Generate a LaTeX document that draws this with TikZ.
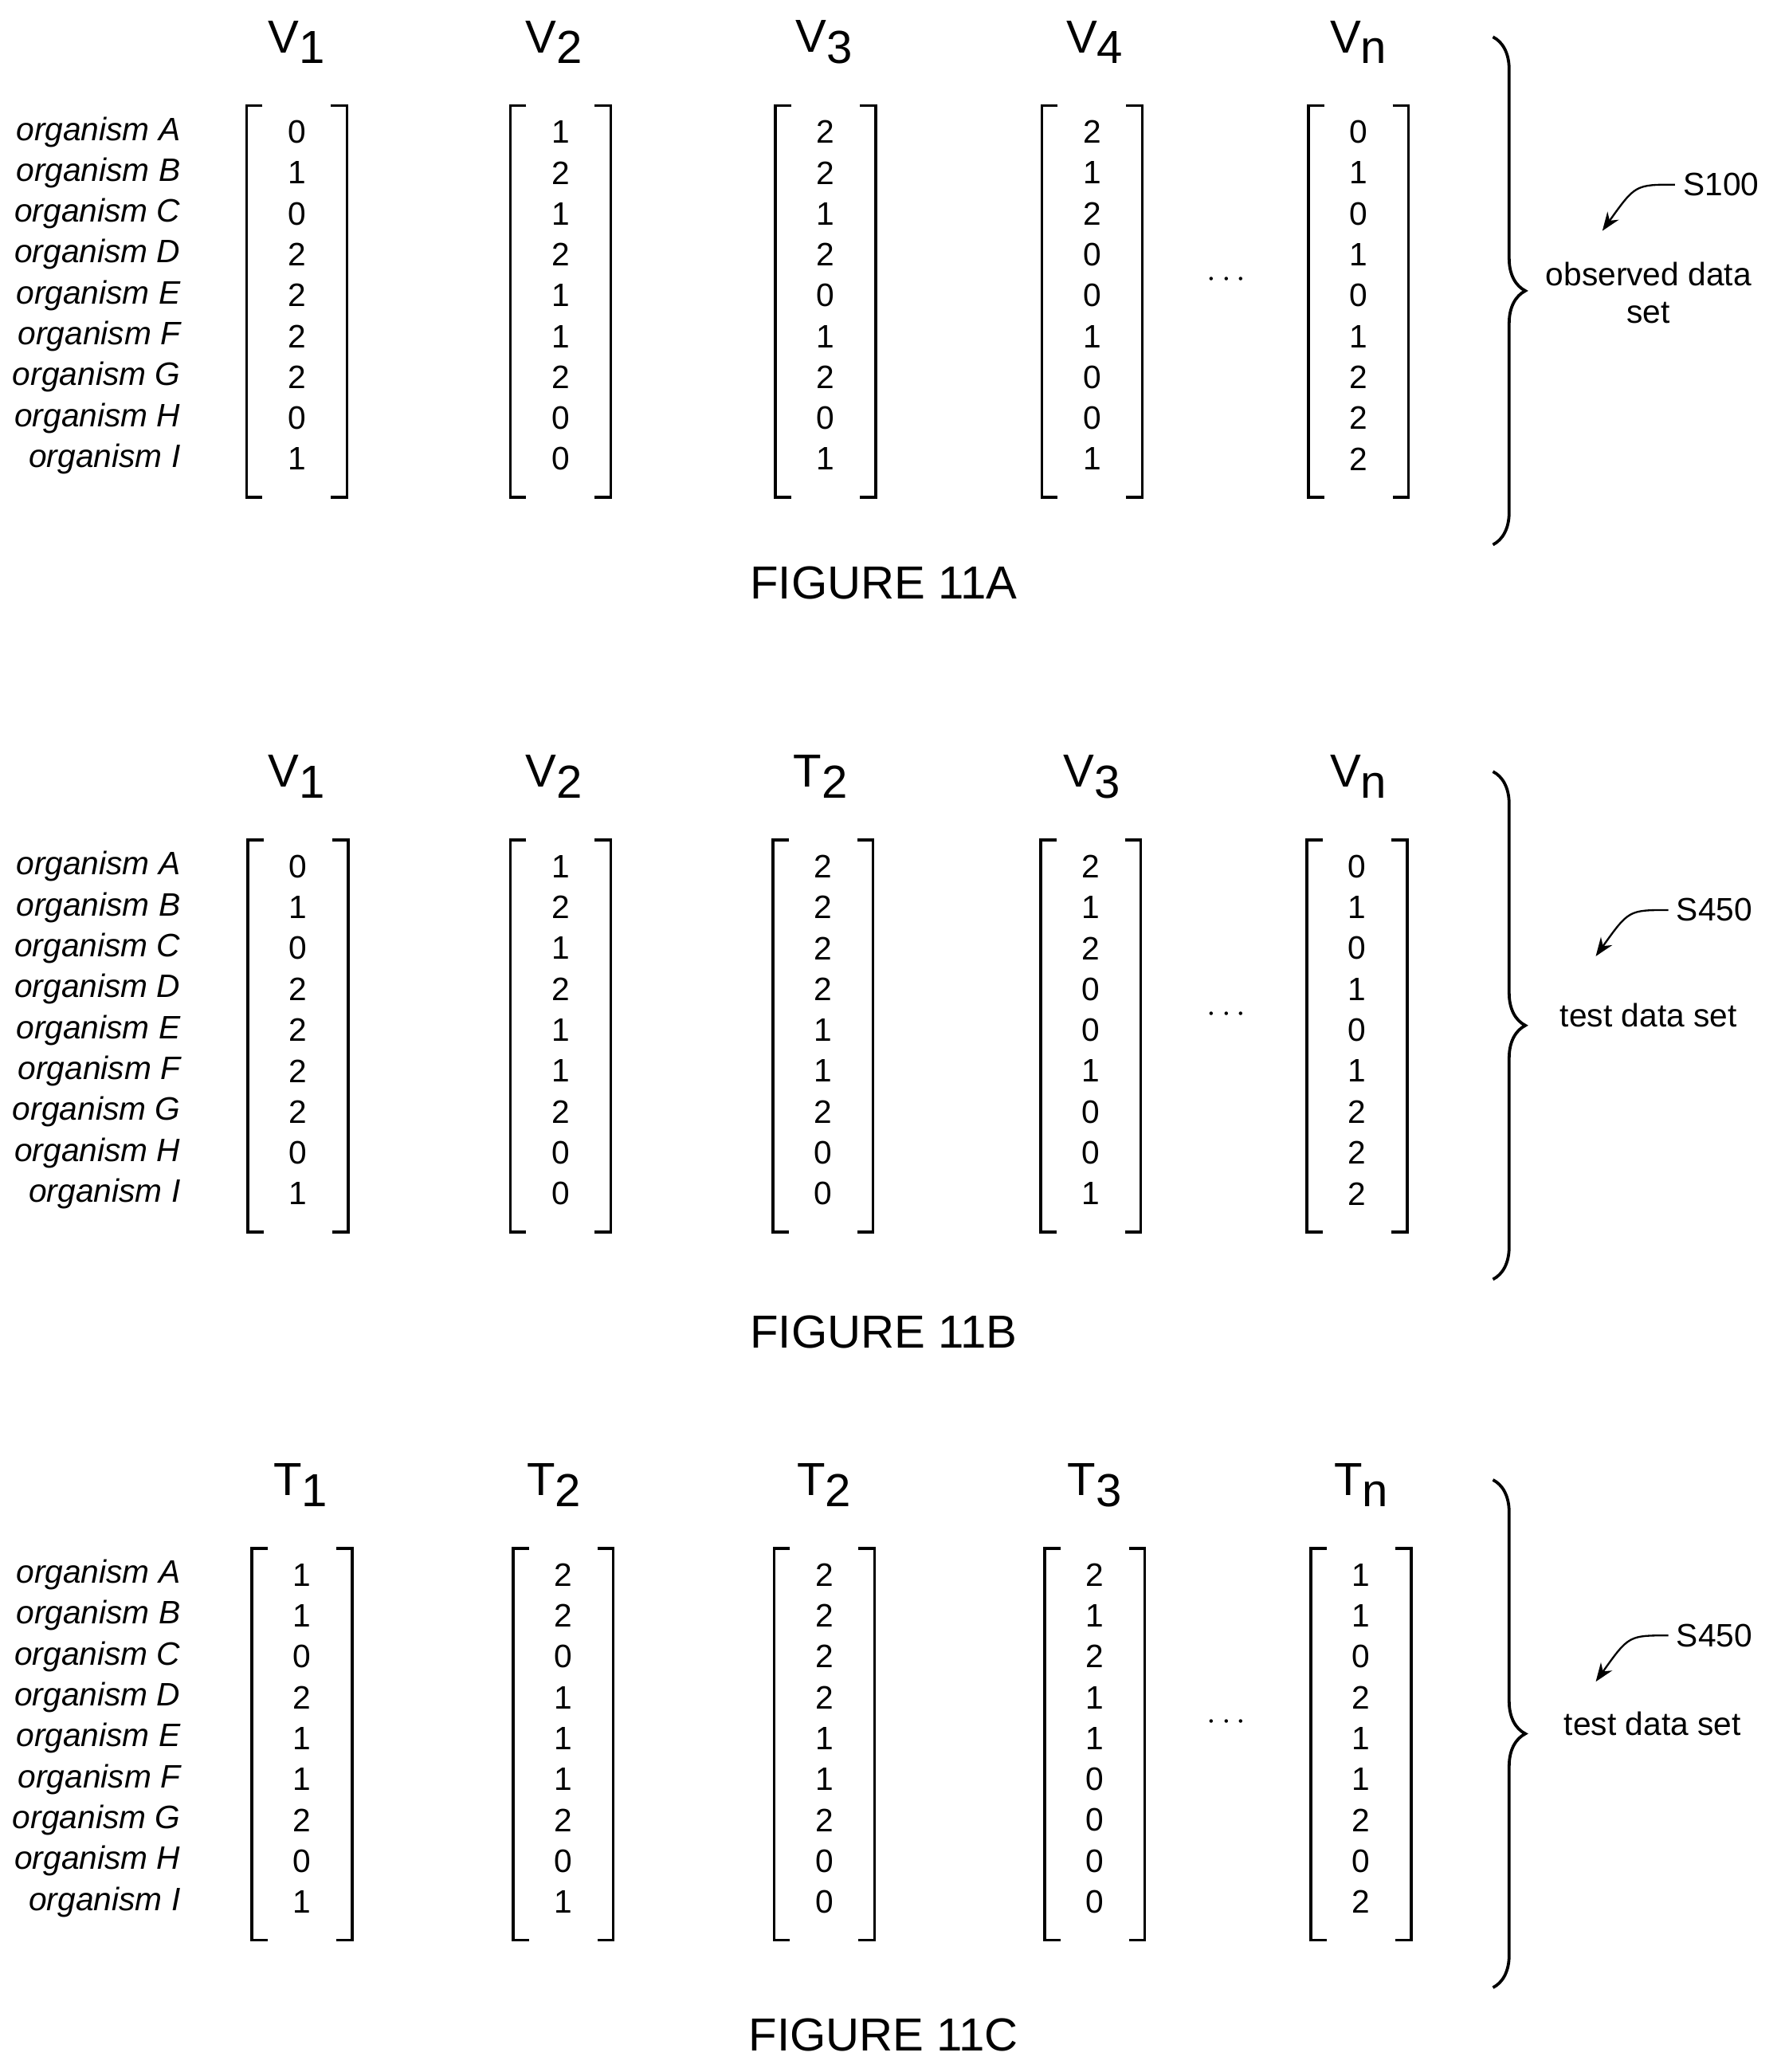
\documentclass[tikz,border=0pt]{standalone}
\usepackage{fontspec}
\setmainfont{Liberation Sans}
\usetikzlibrary{decorations.pathreplacing,arrows.meta}
\tikzset{
  rowlabel/.style={anchor=east,font=\fontsize{14}{16}\selectfont\itshape},
  entry/.style={font=\fontsize{14}{16}\selectfont},
  colhead/.style={font=\fontsize{20}{24}\selectfont},
  figlabel/.style={font=\fontsize{20}{24}\selectfont},
  bracket/.style={line width=1.2pt},
}
\newcommand{\sub}[2]{#1\raisebox{-0.45ex}{#2}}
% one panel: y offset, tag, headers, columns of entries
\newcommand{\panel}[4]{%
  \foreach \lab [count=\r] in {A,B,C,D,E,F,G,H,I}
    \node[rowlabel] (#2-l\r) at (143,{#1+69+31*\r}) {organism \lab};
  \foreach \hd/\xc [count=\c] in {#3}
    \node[colhead] (#2-h\c) at (\xc,{#1+32}) {\hd};
  \foreach \xc/\vals [count=\c] in {#4}{
    \draw[bracket] (\xc-26,{#1+80}) -- (\xc-38,{#1+80}) -- (\xc-38,{#1+377}) -- (\xc-26,{#1+377});
    \draw[bracket] (\xc+26,{#1+80}) -- (\xc+38,{#1+80}) -- (\xc+38,{#1+377}) -- (\xc+26,{#1+377});
    \foreach \v [count=\r] in \vals
      \node[entry] (#2-c\c r\r) at (\xc,{#1+69+31*\r}) {\v};
  }
  \node[entry] (#2-dots) at (930,{#1+212}) {$\cdots$};
  \draw[line width=1.3pt,decorate,decoration={brace,amplitude=14}] (1132,{#1+28}) -- (1132,{#1+413});
}
\begin{document}
\begin{tikzpicture}[x=0.02cm,y=-0.02cm]
\useasboundingbox (0,0) rectangle (1350,1571);
% FIGURE 11A
\panel{0}{a}{\sub{V}{1}/225,\sub{V}{2}/420,\sub{V}{3}/625,\sub{V}{4}/830,\sub{V}{n}/1030}
  {225/{0,1,0,2,2,2,2,0,1},425/{1,2,1,2,1,1,2,0,0},626/{2,2,1,2,0,1,2,0,1},828/{2,1,2,0,0,1,0,0,1},1030/{0,1,0,1,0,1,2,2,2}}
\node[entry] (a-s) at (1305,140) {S100};
\coordinate (a-t) at (1215,175);
\draw[-{Stealth[length=8pt]},line width=0.8pt] (a-s.west) .. controls (1240,140) .. (a-t);
\node[entry,align=center] (a-txt) at (1250,222) {observed data\\set};
\node[figlabel] (a-fig) at (670,442) {FIGURE 11A};
% FIGURE 11B
\panel{557}{b}{\sub{V}{1}/225,\sub{V}{2}/420,\sub{T}{2}/622,\sub{V}{3}/828,\sub{V}{n}/1030}
  {226/{0,1,0,2,2,2,2,0,1},425/{1,2,1,2,1,1,2,0,0},624/{2,2,2,2,1,1,2,0,0},827/{2,1,2,0,0,1,0,0,1},1029/{0,1,0,1,0,1,2,2,2}}
\node[entry] (b-s) at (1300,690) {S450};
\coordinate (b-t) at (1210,725);
\draw[-{Stealth[length=8pt]},line width=0.8pt] (b-s.west) .. controls (1235,690) .. (b-t);
\node[entry] (b-txt) at (1250,770) {test data set};
\node[figlabel] (b-fig) at (670,1010) {FIGURE 11B};
% FIGURE 11C
\panel{1094}{c}{\sub{T}{1}/228,\sub{T}{2}/420,\sub{T}{2}/625,\sub{T}{3}/830,\sub{T}{n}/1032}
  {229/{1,1,0,2,1,1,2,0,1},427/{2,2,0,1,1,1,2,0,1},625/{2,2,2,2,1,1,2,0,0},830/{2,1,2,1,1,0,0,0,0},1032/{1,1,0,2,1,1,2,0,2}}
\node[entry] (c-s) at (1300,1240) {S450};
\coordinate (c-t) at (1210,1275);
\draw[-{Stealth[length=8pt]},line width=0.8pt] (c-s.west) .. controls (1235,1240) .. (c-t);
\node[entry] (c-txt) at (1253,1307) {test data set};
\node[figlabel] (c-fig) at (670,1543) {FIGURE 11C};
\end{tikzpicture}
\end{document}
